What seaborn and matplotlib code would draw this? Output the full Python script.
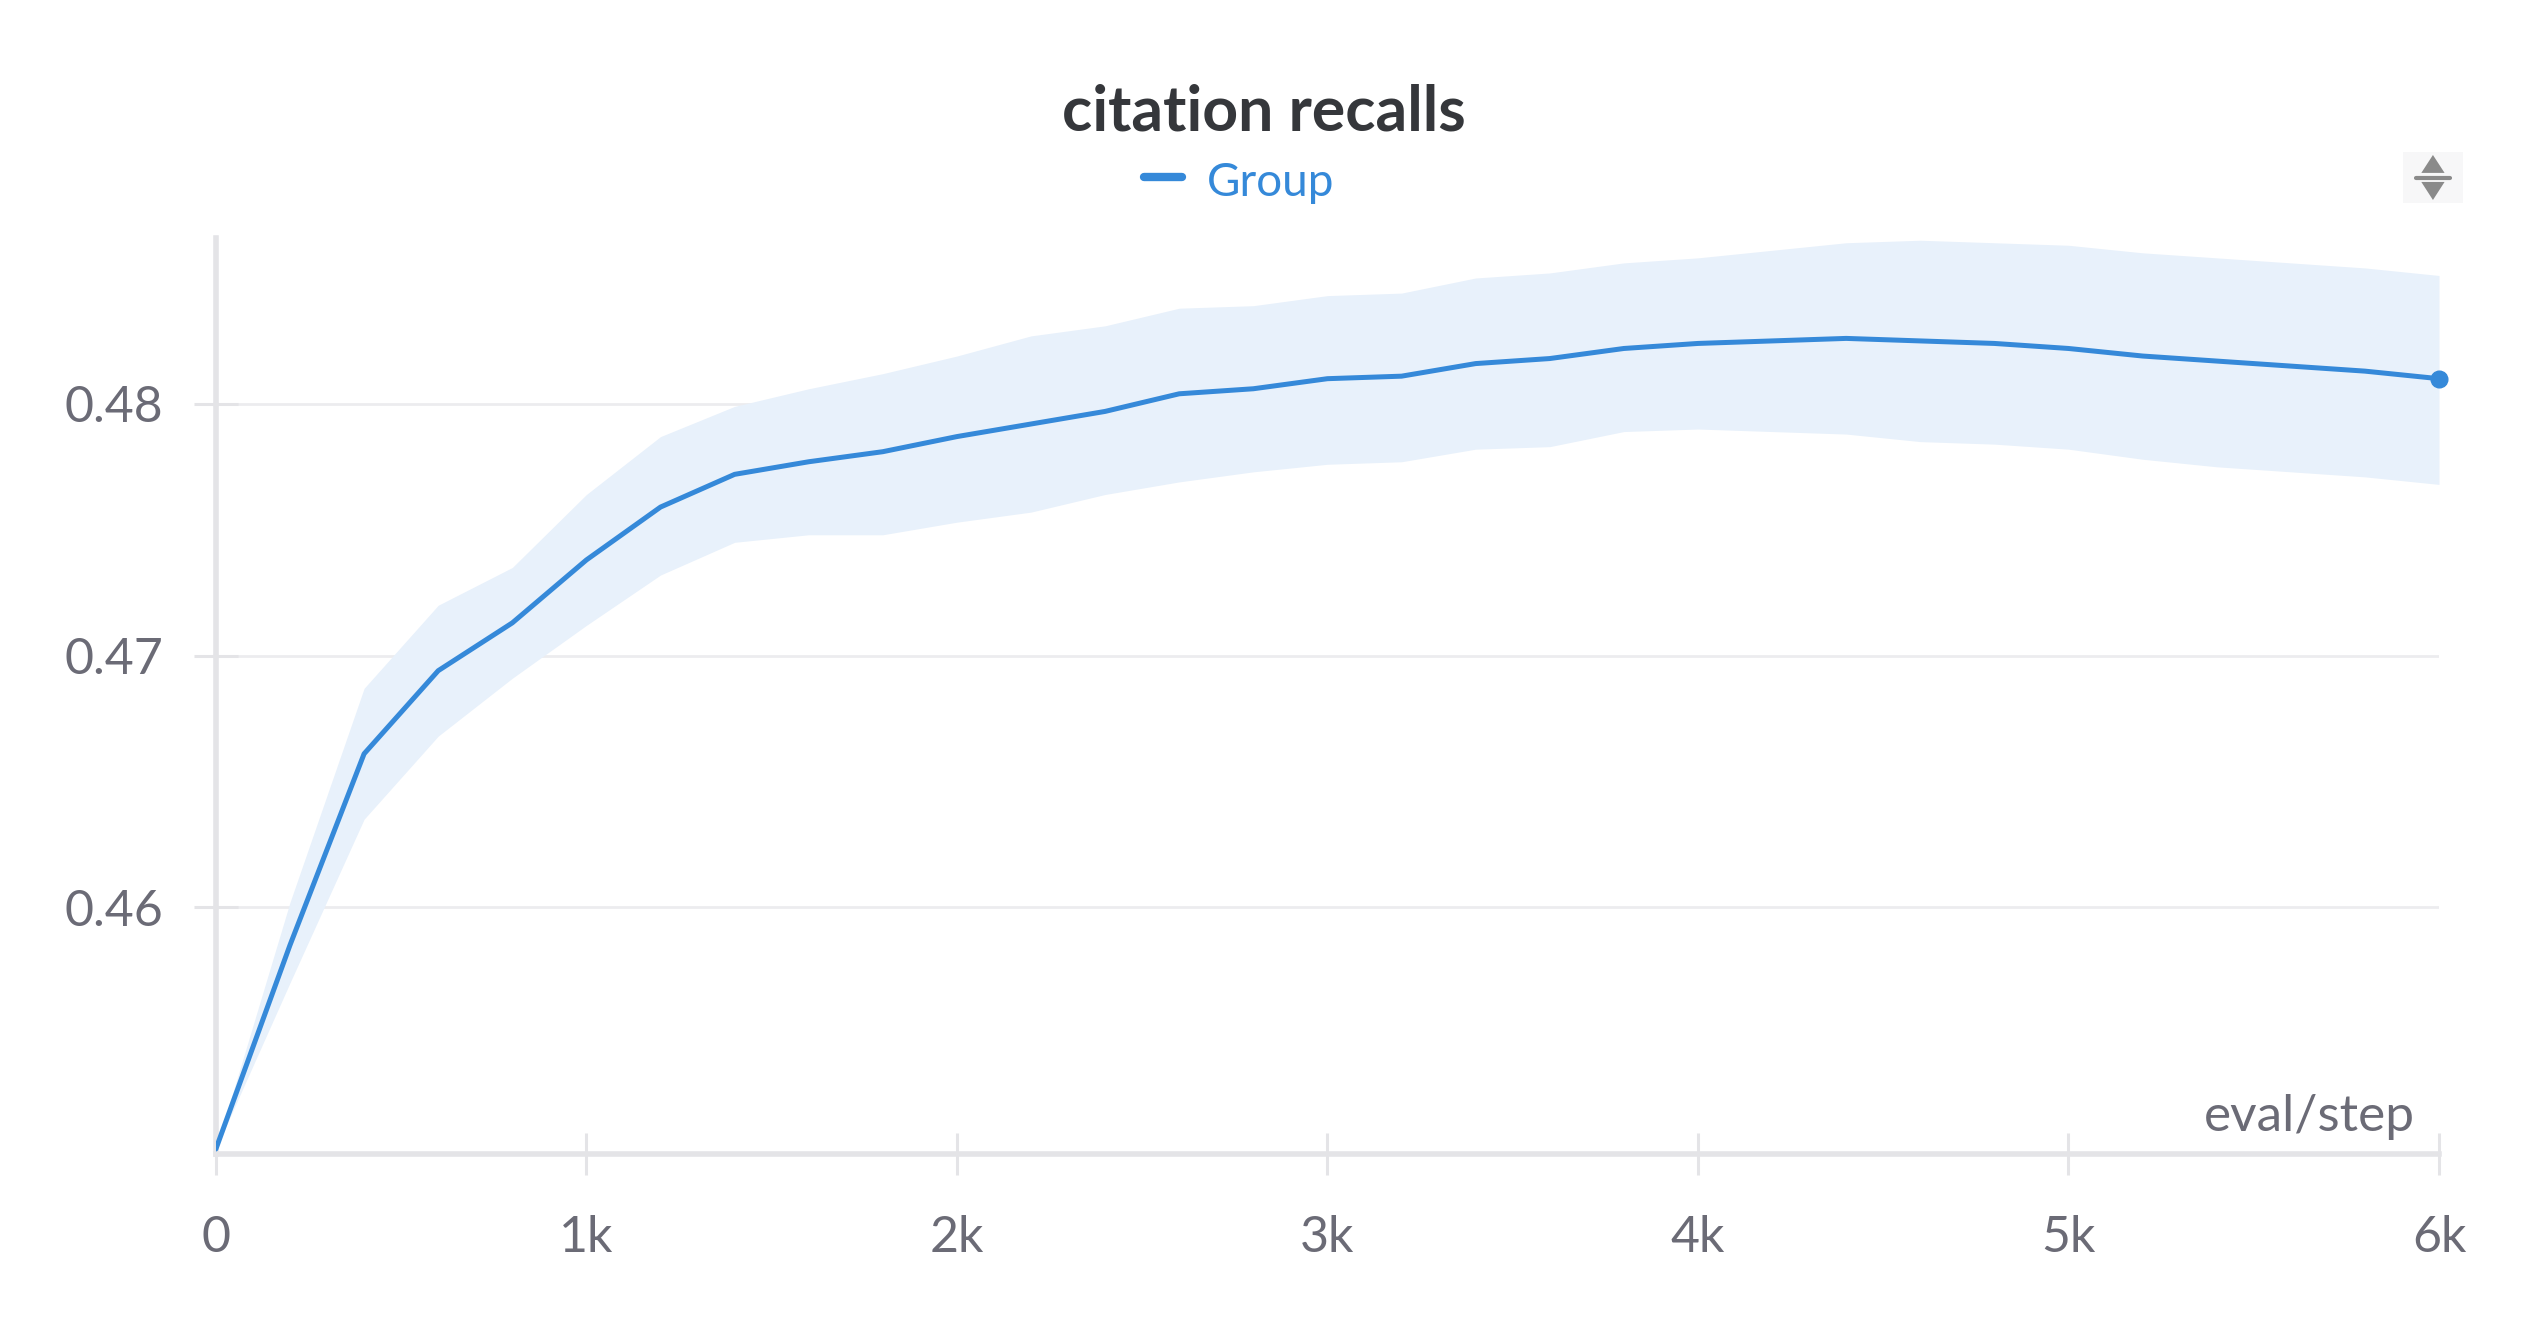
import pandas as pd
import seaborn as sns
import matplotlib.pyplot as plt
from matplotlib.patches import Polygon, Rectangle

# eval steps and recall values
steps = [0, 200, 400, 600, 800, 1000, 1200, 1400, 1600, 1800, 2000,
         2200, 2400, 2600, 2800, 3000, 3200, 3400, 3600, 3800, 4000,
         4200, 4400, 4600, 4800, 5000, 5200, 5400, 5600, 5800, 6000]
recall_mean = [0.4504, 0.4585, 0.4661, 0.4694, 0.4713, 0.4738, 0.4759, 0.4772,
               0.4777, 0.4781, 0.4787, 0.4792, 0.4797, 0.4804, 0.4806, 0.4810,
               0.4811, 0.4816, 0.4818, 0.4822, 0.4824, 0.4825, 0.4826, 0.4825,
               0.4824, 0.4822, 0.4819, 0.4817, 0.4815, 0.4813, 0.4810]
recall_upper = [0.4504, 0.4602, 0.4687, 0.4720, 0.4735, 0.4764, 0.4787, 0.4799,
                0.4806, 0.4812, 0.4819, 0.4827, 0.4831, 0.4838, 0.4839, 0.4843,
                0.4844, 0.4850, 0.4852, 0.4856, 0.4858, 0.4861, 0.4864, 0.4865,
                0.4864, 0.4863, 0.4860, 0.4858, 0.4856, 0.4854, 0.4851]
recall_lower = [0.4504, 0.4570, 0.4635, 0.4668, 0.4691, 0.4712, 0.4732, 0.4745,
                0.4748, 0.4748, 0.4753, 0.4757, 0.4764, 0.4769, 0.4773, 0.4776,
                0.4777, 0.4782, 0.4783, 0.4789, 0.4790, 0.4789, 0.4788, 0.4785,
                0.4784, 0.4782, 0.4778, 0.4775, 0.4773, 0.4771, 0.4768]
x_ticks = [0, 1000, 2000, 3000, 4000, 5000, 6000]
x_labels = ['0', '1k', '2k', '3k', '4k', '5k', '6k']
y_ticks = [0.46, 0.47, 0.48]
y_labels = ['0.46', '0.47', '0.48']

df = pd.DataFrame({'step': steps, 'mean': recall_mean,
                   'upper': recall_upper, 'lower': recall_lower})

line_color = '#3589d9'
band_color = '#e8f1fb'
axis_color = '#e4e4e7'
grid_color = '#ececef'
text_gray = '#6b6b76'
icon_gray = '#8a8a8a'

sns.set_style('white')
plt.rcParams['font.family'] = ['Lato', 'DejaVu Sans']

fig = plt.figure(figsize=(25.28, 13.28), dpi=100)
ax = fig.add_axes([0.0854, 0.131, 0.8794, 0.690])

ax.fill_between(df['step'], df['lower'], df['upper'], color=band_color, lw=0, zorder=1)
sns.lineplot(data=df, x='step', y='mean', ax=ax, color=line_color, lw=3.6, zorder=3)
ax.plot(df['step'].iloc[-1], df['mean'].iloc[-1], 'o', color=line_color, ms=12,
        zorder=4, clip_on=False)

ax.set_xlim(0, 6000)
ax.set_ylim(0.4502, 0.4866)
ax.set_xticks(x_ticks)
ax.set_xticklabels(x_labels)
ax.set_yticks(y_ticks)
ax.set_yticklabels(y_labels)
ax.set_xlabel('')
ax.set_ylabel('')

ax.yaxis.grid(True, color=grid_color, lw=2)
ax.xaxis.grid(False)
ax.set_axisbelow(True)

for side in ['top', 'right']:
    ax.spines[side].set_visible(False)
for side in ['left', 'bottom']:
    ax.spines[side].set_color(axis_color)
    ax.spines[side].set_linewidth(4)
ax.spines['left'].set_zorder(0)

ax.tick_params(axis='x', direction='inout', length=30, width=2.2, color=axis_color,
               labelsize=36, labelcolor=text_gray, pad=29, bottom=True)
ax.tick_params(axis='y', direction='inout', length=32, width=2.2, color=axis_color,
               labelsize=36, labelcolor=text_gray, pad=22, left=True)

ax.text(0.989, 0.04, 'eval/step', transform=ax.transAxes, ha='right', va='center',
        fontsize=37, color=text_gray)

fig.text(0.5, 0.915, 'citation recalls', ha='center', va='center',
         fontsize=45, fontweight='bold', color='#35373b')

# legend entry
fig.add_artist(plt.Line2D([0.4525, 0.4675], [0.8665, 0.8665], transform=fig.transFigure,
                          color=line_color, lw=6, solid_capstyle='round'))
fig.text(0.4775, 0.8625, 'Group', ha='left', va='center', fontsize=33, color=line_color)

# sort icon in the top right corner
fig.add_artist(Rectangle((0.9506, 0.8471), 0.0237, 0.0384, transform=fig.transFigure,
                         color='#f7f7f8', lw=0))
fig.add_artist(Polygon([[0.9578, 0.8698], [0.9670, 0.8698], [0.9624, 0.8833]],
                       closed=True, transform=fig.transFigure, color=icon_gray, lw=0))
fig.add_artist(Polygon([[0.9578, 0.8630], [0.9670, 0.8630], [0.9624, 0.8494]],
                       closed=True, transform=fig.transFigure, color=icon_gray, lw=0))
fig.add_artist(plt.Line2D([0.9557, 0.9691], [0.8663, 0.8663], transform=fig.transFigure,
                          color=icon_gray, lw=3, solid_capstyle='round'))

fig.savefig('out.png', dpi=100)
